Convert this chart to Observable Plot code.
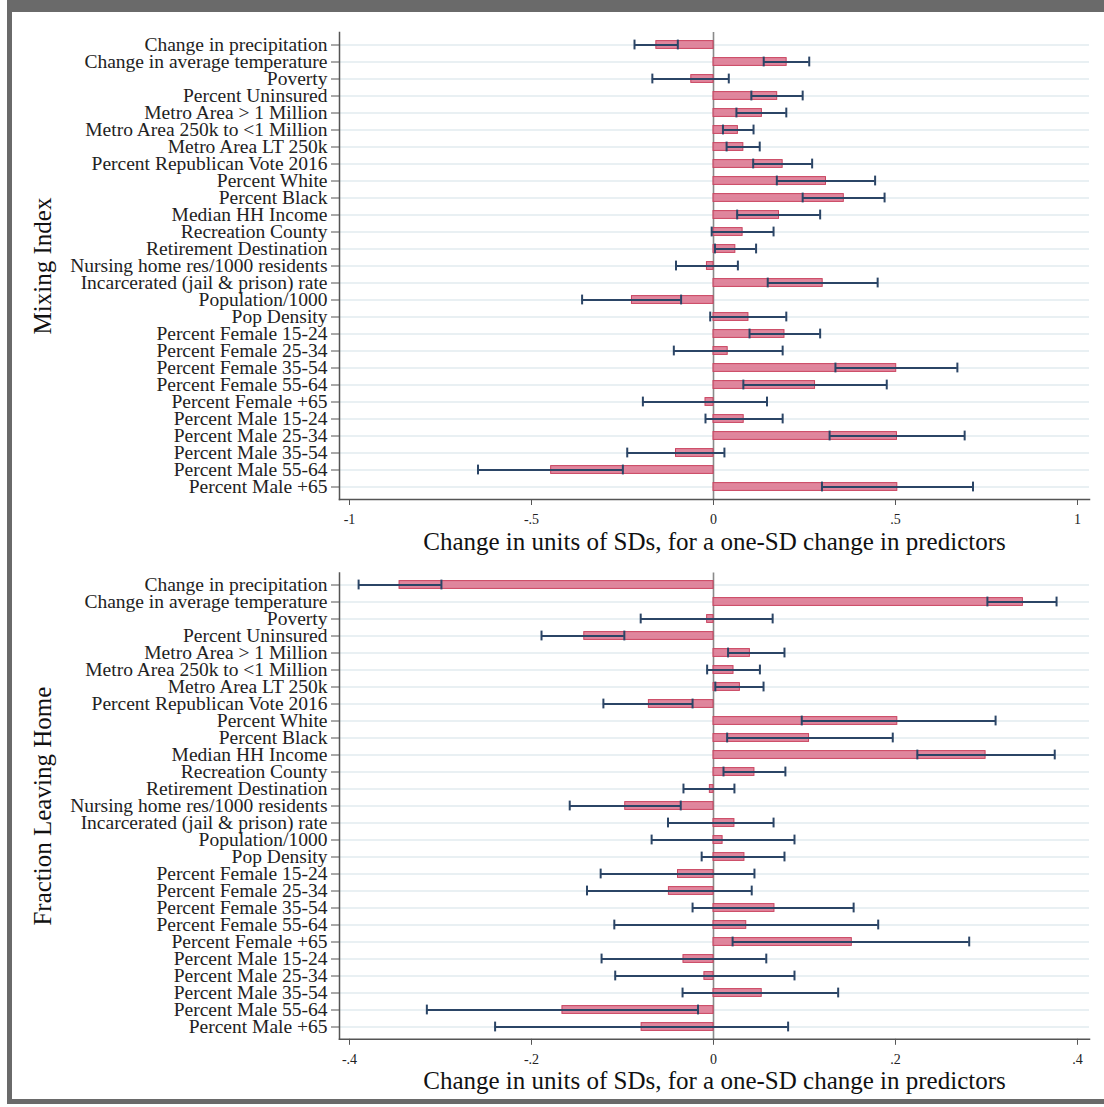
<!DOCTYPE html>
<html><head><meta charset="utf-8">
<script src="https://cdn.jsdelivr.net/npm/d3@7"></script>
<script src="https://cdn.jsdelivr.net/npm/@observablehq/plot@0.6"></script>
<style>
body{margin:0;background:#fff;width:1104px;height:1107px;overflow:hidden;position:relative;font-family:"Liberation Serif",serif}
#frame{position:absolute;left:7px;top:0;width:1097px;height:1104px;box-sizing:border-box;border-top:12px solid #6a6a6a;border-left:5px solid #6a6a6a;border-bottom:5px solid #6a6a6a}
#p1{position:absolute;left:0;top:0}
#p2{position:absolute;left:0;top:555px}
</style></head><body>
<div id="frame"></div>
<div id="p1"></div><div id="p2"></div>
<script>
const predictors = [
  "Change in precipitation","Change in average temperature","Poverty","Percent Uninsured",
  "Metro Area > 1 Million","Metro Area 250k to <1 Million","Metro Area LT 250k",
  "Percent Republican Vote 2016","Percent White","Percent Black","Median HH Income",
  "Recreation County","Retirement Destination","Nursing home res/1000 residents",
  "Incarcerated (jail & prison) rate","Population/1000","Pop Density",
  "Percent Female 15-24","Percent Female 25-34","Percent Female 35-54","Percent Female 55-64",
  "Percent Female +65","Percent Male 15-24","Percent Male 25-34","Percent Male 35-54",
  "Percent Male 55-64","Percent Male +65"
];
// Mixing Index
const mixEst = [-0.157,0.201,-0.061,0.175,0.133,0.067,0.082,0.190,0.309,0.358,0.180,0.080,0.060,-0.018,0.300,-0.224,0.096,0.195,0.039,0.502,0.279,-0.022,0.083,0.504,-0.103,-0.446,0.505];
const mixLo  = [-0.217,0.138,-0.168,0.104,0.063,0.026,0.036,0.109,0.174,0.245,0.065,-0.005,0.004,-0.103,0.149,-0.361,-0.009,0.099,-0.109,0.335,0.082,-0.194,-0.022,0.319,-0.237,-0.647,0.298];
const mixHi  = [-0.098,0.263,0.042,0.245,0.200,0.110,0.127,0.271,0.444,0.470,0.293,0.165,0.117,0.067,0.451,-0.089,0.200,0.293,0.190,0.670,0.476,0.147,0.190,0.690,0.030,-0.249,0.713];
// Fraction Leaving Home
const leaveEst = [-0.345,0.340,-0.007,-0.142,0.040,0.022,0.029,-0.071,0.202,0.105,0.299,0.045,-0.004,-0.097,0.023,0.010,0.034,-0.039,-0.049,0.067,0.036,0.152,-0.033,-0.010,0.053,-0.166,-0.079];
const leaveLo  = [-0.390,0.301,-0.080,-0.189,0.016,-0.007,0.002,-0.121,0.097,0.015,0.224,0.011,-0.033,-0.158,-0.050,-0.068,-0.013,-0.124,-0.139,-0.023,-0.109,0.021,-0.123,-0.108,-0.034,-0.315,-0.240];
const leaveHi  = [-0.299,0.377,0.065,-0.098,0.078,0.051,0.055,-0.023,0.310,0.197,0.375,0.079,0.023,-0.036,0.066,0.089,0.078,0.045,0.042,0.154,0.181,0.281,0.058,0.089,0.137,-0.017,0.082];

const mixTicks = [-1,-0.5,0,0.5,1];
const leaveTicks = [-0.4,-0.2,0,0.2,0.4];
const mixDomain = [-1.0275,1.033];
const leaveDomain = [-0.411,0.4132];
const xTitle = "Change in units of SDs, for a one-SD change in predictors";

const fmt = d => d === 0 ? "0" : String(d).replace("0.", ".");
const serif = '"Liberation Serif", "Times New Roman", serif';

function panel({est, lo, hi, ticks, domain, ylabel, height, marginTop, marginBottom}) {
  const data = predictors.map((p, i) => ({p, est: est[i], lo: lo[i], hi: hi[i]}));
  return Plot.plot({
    width: 1104, height, marginLeft: 339, marginRight: 15, marginTop, marginBottom,
    style: {fontFamily: serif, background: "transparent", color: "#222"},
    x: {domain, label: null},
    y: {domain: predictors, padding: 0, label: null},
    marks: [
      Plot.gridY({stroke: "#e2ebef", strokeOpacity: 1, strokeWidth: 1.6}),
      Plot.ruleX([0], {stroke: "#8a8a8a", strokeWidth: 1.6}),
      Plot.barX(data, {x: "est", y: "p", fill: "#dc7590", fillOpacity: 0.88, stroke: "#c9435f", strokeWidth: 1, insetTop: 4.6, insetBottom: 4.6}),
      Plot.ruleY(data, {y: "p", x1: "lo", x2: "hi", stroke: "#2b4566", strokeWidth: 2}),
      Plot.tickX(data, {x: "lo", y: "p", stroke: "#2b4566", strokeWidth: 2, insetTop: 3.6, insetBottom: 3.6}),
      Plot.tickX(data, {x: "hi", y: "p", stroke: "#2b4566", strokeWidth: 2, insetTop: 3.6, insetBottom: 3.6}),
      Plot.frame({anchor: "left", stroke: "#555", strokeWidth: 1.5}),
      Plot.frame({anchor: "bottom", stroke: "#555", strokeWidth: 1.5}),
      Plot.axisY({tickSize: 8, tickPadding: 4, fontSize: 19.5, label: null, stroke: "#555"}),
      Plot.axisX({ticks, tickFormat: fmt, tickSize: 6, tickPadding: 9, fontSize: 14, label: null, stroke: "#555"}),
      Plot.text([ylabel], {frameAnchor: "left", dx: -297, rotate: -90, textAnchor: "middle", lineAnchor: "middle", fontSize: 25, fill: "#111"}),
      Plot.text([xTitle], {frameAnchor: "bottom", dy: 42, textAnchor: "middle", lineAnchor: "middle", fontSize: 25, fill: "#111"})
    ]
  });
}

document.getElementById("p1").append(panel({
  est: mixEst, lo: mixLo, hi: mixHi, ticks: mixTicks, domain: mixDomain,
  ylabel: "Mixing Index", height: 555, marginTop: 32, marginBottom: 56
}));
document.getElementById("p2").append(panel({
  est: leaveEst, lo: leaveLo, hi: leaveHi, ticks: leaveTicks, domain: leaveDomain,
  ylabel: "Fraction Leaving Home", height: 552, marginTop: 17.5, marginBottom: 68.2
}));
</script>
</body></html>
